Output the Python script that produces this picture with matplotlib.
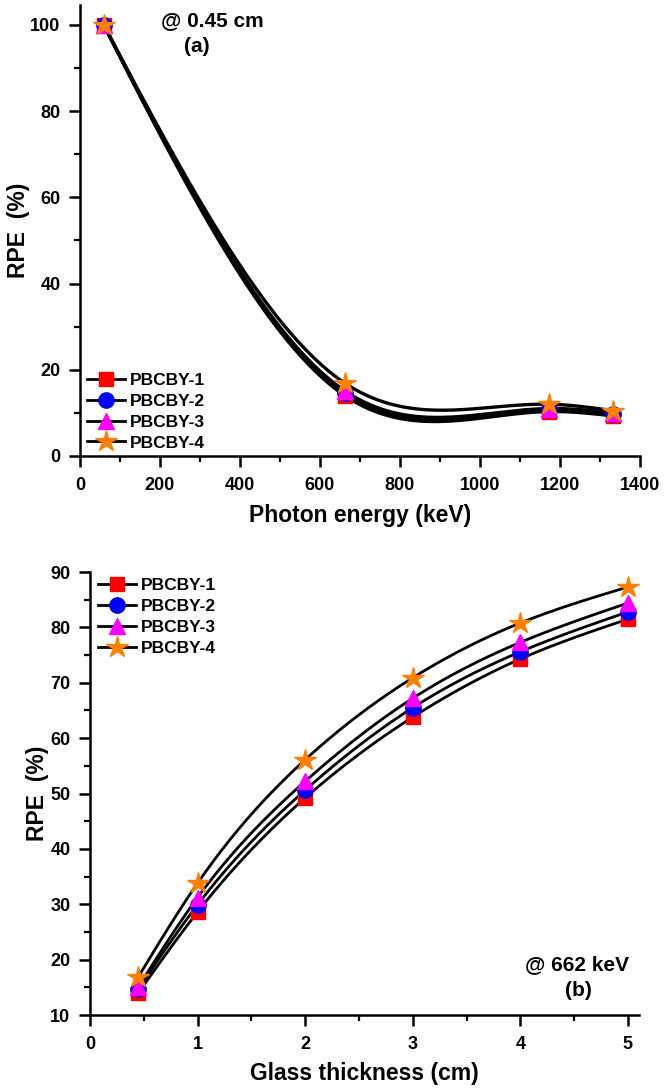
import numpy as np
import matplotlib
matplotlib.use("Agg")
import matplotlib.pyplot as plt
from matplotlib.ticker import MultipleLocator

plt.rcParams['font.family'] = ['Liberation Sans', 'DejaVu Sans']
plt.rcParams['font.weight'] = 'bold'

# ---- data ----
series = ["PBCBY-1", "PBCBY-2", "PBCBY-3", "PBCBY-4"]
colors = ["#ff0000", "#0000ff", "#ff00ff", "#ff8000"]
markers = ["s", "o", "^", "*"]
msizes = [10, 11, 11, 16]

energy = [59.5, 662, 1173, 1332]
rpe_energy = [
    [100, 14.0, 10.3, 9.3],
    [100, 14.6, 10.8, 9.8],
    [100, 15.1, 11.0, 10.0],
    [100, 16.9, 12.0, 10.5],
]

thickness = [0.45, 1, 2, 3, 4, 5]
rpe_thick = [
    [14.0, 28.6, 49.2, 63.8, 74.3, 81.5],
    [14.7, 29.9, 50.6, 65.5, 75.6, 82.8],
    [15.1, 31.2, 52.2, 67.2, 77.3, 84.4],
    [16.9, 33.8, 56.1, 70.9, 80.8, 87.3],
]


def natural_spline(x, y, n=300):
    x = np.asarray(x, float)
    y = np.asarray(y, float)
    m = len(x)
    h = np.diff(x)
    A = np.zeros((m, m))
    b = np.zeros(m)
    A[0, 0] = 1
    A[-1, -1] = 1
    for i in range(1, m - 1):
        A[i, i - 1] = h[i - 1]
        A[i, i] = 2 * (h[i - 1] + h[i])
        A[i, i + 1] = h[i]
        b[i] = 6 * ((y[i + 1] - y[i]) / h[i] - (y[i] - y[i - 1]) / h[i - 1])
    M = np.linalg.solve(A, b)
    xs = np.linspace(x[0], x[-1], n)
    idx = np.clip(np.searchsorted(x, xs) - 1, 0, m - 2)
    x0, x1 = x[idx], x[idx + 1]
    hh = x1 - x0
    ys = (M[idx] * (x1 - xs) ** 3 / (6 * hh) + M[idx + 1] * (xs - x0) ** 3 / (6 * hh)
          + (y[idx] / hh - M[idx] * hh / 6) * (x1 - xs)
          + (y[idx + 1] / hh - M[idx + 1] * hh / 6) * (xs - x0))
    return xs, ys


fig = plt.figure(figsize=(6.66, 10.9), dpi=100)
ax1 = fig.add_axes([0.120, 0.5817, 0.841, 0.4137])
ax2 = fig.add_axes([0.135, 0.0688, 0.824, 0.4064])


def style(ax):
    for s in ("top", "right"):
        ax.spines[s].set_visible(False)
    for s in ("left", "bottom"):
        ax.spines[s].set_linewidth(1.8)
    ax.tick_params(which="major", direction="out", length=8, width=1.8, labelsize=13)
    ax.tick_params(axis="x", which="major", pad=7)
    ax.tick_params(axis="y", which="major", pad=6)
    ax.tick_params(which="minor", direction="out", length=4, width=1.6)
    for lab in ax.get_xticklabels() + ax.get_yticklabels():
        lab.set_fontweight("bold")


leg_kw = dict(frameon=False, handlelength=2.2, handletextpad=0.3, labelspacing=0.33,
              borderaxespad=0.0, borderpad=0.0, prop={"weight": "bold", "size": 12.5})

# ---- top panel ----
for i, name in enumerate(series):
    xs, ys = natural_spline(energy, rpe_energy[i])
    ax1.plot(xs, ys, color="black", lw=2.4, zorder=2)
    ax1.plot(energy, rpe_energy[i], linestyle="none", marker=markers[i],
             color=colors[i], markersize=msizes[i], zorder=3 + i)
    ax1.plot([], [], color="black", lw=2, marker=markers[i], markerfacecolor=colors[i],
             markeredgecolor=colors[i], markersize=msizes[i], label=name)
ax1.set_xlim(0, 1400)
ax1.set_ylim(0, 104.6)
ax1.xaxis.set_major_locator(MultipleLocator(200))
ax1.xaxis.set_minor_locator(MultipleLocator(100))
ax1.yaxis.set_major_locator(MultipleLocator(20))
ax1.yaxis.set_minor_locator(MultipleLocator(10))
style(ax1)
ax1.set_xlabel("Photon energy (keV)", fontsize=16.5, fontweight="bold", va="center")
ax1.set_ylabel("RPE  (%)", fontsize=16.5, fontweight="bold", va="center")
ax1.xaxis.set_label_coords(0.5, -0.131)
ax1.yaxis.set_label_coords(-0.110, 0.5)
ax1.text(330, 101, "@ 0.45 cm", fontsize=15, fontweight="bold", ha="center", va="center")
ax1.text(292, 95, "(a)", fontsize=15, fontweight="bold", ha="center", va="center")
ax1.legend(loc="lower left", bbox_to_anchor=(0.0125, 0.012), **leg_kw)

# ---- bottom panel ----
for i, name in enumerate(series):
    xs, ys = natural_spline(thickness, rpe_thick[i])
    ax2.plot(xs, ys, color="black", lw=2.0, zorder=2)
    ax2.plot(thickness, rpe_thick[i], linestyle="none", marker=markers[i],
             color=colors[i], markersize=msizes[i], zorder=3 + i)
    ax2.plot([], [], color="black", lw=2, marker=markers[i], markerfacecolor=colors[i],
             markeredgecolor=colors[i], markersize=msizes[i], label=name)
ax2.set_xlim(0, 5.1)
ax2.set_ylim(10, 90)
ax2.xaxis.set_major_locator(MultipleLocator(1))
ax2.xaxis.set_minor_locator(MultipleLocator(0.5))
ax2.yaxis.set_major_locator(MultipleLocator(10))
ax2.yaxis.set_minor_locator(MultipleLocator(5))
style(ax2)
ax2.set_xlabel("Glass thickness (cm)", fontsize=16.5, fontweight="bold", va="center")
ax2.set_ylabel("RPE  (%)", fontsize=16.5, fontweight="bold", va="center")
ax2.xaxis.set_label_coords(0.5, -0.131)
ax2.yaxis.set_label_coords(-0.095, 0.5)
ax2.text(4.53, 19.1, "@ 662 keV", fontsize=15, fontweight="bold", ha="center", va="center")
ax2.text(4.54, 14.5, "(b)", fontsize=15, fontweight="bold", ha="center", va="center")
ax2.legend(loc="upper left", bbox_to_anchor=(0.0146, 0.986), **leg_kw)

fig.savefig("out.png", dpi=100)
